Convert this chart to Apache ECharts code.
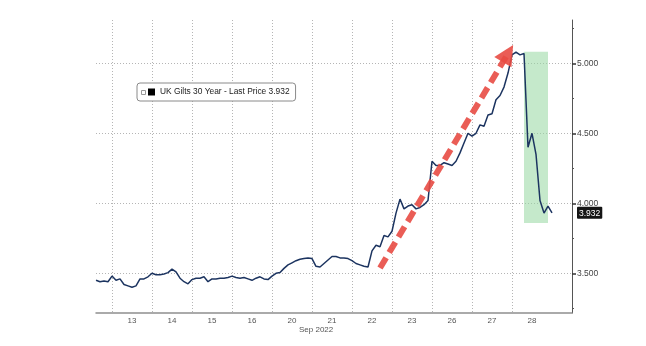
<!DOCTYPE html>
<html><head><meta charset="utf-8">
<script src="https://cdn.jsdelivr.net/npm/echarts@6/dist/echarts.min.js"></script>
<style>html,body{margin:0;padding:0;background:#fff}#c{width:646px;height:346px}</style>
</head><body><div id="c"></div>
<script>
// ---- data ----
const days = ['12','13','14','15','16','20','21','22','23','26','27','28'];
const firstSlot = [6,0,0,0,0,0,0,0,0,0,0,0];
const lastSlot  = [9,9,9,9,9,9,9,9,9,9,9,10];
const padSlots = ['e1','e2','e3','e4','e5'];
const yieldValues = [
  3.45,3.44,3.445,3.44,
  3.48,3.45,3.46,3.42,3.41,3.40,3.41,3.46,3.46,3.475,
  3.50,3.49,3.49,3.495,3.505,3.53,3.51,3.465,3.44,3.425,
  3.455,3.465,3.465,3.475,3.44,3.46,3.46,3.465,3.465,3.47,
  3.48,3.47,3.465,3.47,3.46,3.45,3.465,3.475,3.46,3.455,
  3.48,3.50,3.505,3.535,3.56,3.575,3.59,3.60,3.605,3.61,
  3.605,3.55,3.545,3.57,3.595,3.62,3.62,3.61,3.61,3.605,
  3.59,3.57,3.56,3.55,3.545,3.66,3.70,3.69,3.77,3.76,
  3.80,3.93,4.03,3.96,3.98,3.99,3.96,3.97,3.99,4.02,
  4.30,4.27,4.27,4.29,4.28,4.27,4.30,4.36,4.43,4.50,
  4.48,4.50,4.56,4.55,4.63,4.64,4.74,4.77,4.83,4.93,
  5.06,5.08,5.06,5.07,4.40,4.50,4.35,4.02,3.93,3.98,3.932
];
const seriesName = 'UK Gilts 30 Year';
const lastPrice = 3.932;
const yMajorTicks = [3.5, 4.0, 4.5, 5.0];
const yMinorTicks = [3.25, 3.75, 4.25, 4.75, 5.25];
const yRange = [3.2164, 5.309];
const axisMonth = 'Sep 2022';
const highlightX = ['28-3', '28-9'];
const highlightY = [5.083, 3.859];
const arrowStart = ['22-7', 3.538];
const arrowEnd = ['27-9', 5.07];

// ---- categories ----
const categories = [];
days.forEach((d, i) => { for (let k = firstSlot[i]; k <= lastSlot[i]; k++) categories.push(d + '-' + k); });
padSlots.forEach(p => categories.push(p));
const labelledDays = days.slice(1);
const isDayStart = v => { const p = v.split('-'); return p[1] === '0' && labelledDays.includes(p[0]); };
const isDayMid = v => { const p = v.split('-'); return p[1] === '5' && labelledDays.includes(p[0]); };

const FONT = 'Liberation Sans';
const chart = echarts.init(document.getElementById('c'), null, {renderer: 'canvas'});
chart.setOption({
  animation: false,
  backgroundColor: '#fff',
  grid: {left: 96, right: 74, top: 20, bottom: 33, containLabel: false},
  legend: {
    left: 137, top: 83, orient: 'horizontal',
    backgroundColor: '#fff', borderColor: '#8a8a8a', borderWidth: 1, borderRadius: 3,
    padding: [5, 6, 5, 11], itemWidth: 7, itemHeight: 7, itemGap: 4, icon: 'rect',
    textStyle: {fontSize: 8.4, color: '#222', fontFamily: FONT},
    formatter: n => n + ' - Last Price ' + lastPrice.toFixed(3),
    data: [{name: seriesName, itemStyle: {color: '#000'}}],
    selectedMode: false
  },
  xAxis: {
    type: 'category', data: categories, boundaryGap: false,
    axisLine: {show: true, lineStyle: {color: '#8f8f8f', width: 1.5}},
    axisTick: {show: false},
    axisLabel: {interval: (i, v) => isDayMid(v), formatter: v => v.split('-')[0],
      fontSize: 8, color: '#555', fontFamily: FONT, margin: 4},
    splitLine: {show: true, interval: (i, v) => isDayStart(v),
      lineStyle: {color: '#b5b5b5', type: [1, 2], width: 1}}
  },
  yAxis: [{
    type: 'value', position: 'right', min: yRange[0], max: yRange[1], scale: true,
    axisLine: {show: true, lineStyle: {color: '#555', width: 1}},
    axisTick: {show: true, customValues: yMajorTicks, length: 4, lineStyle: {color: '#333', width: 1.5}},
    axisLabel: {
      customValues: yMajorTicks.concat([lastPrice]), margin: 5,
      fontSize: 8.5, color: '#444', fontFamily: FONT,
      formatter: v => Math.abs(v - lastPrice) < 1e-9 ? '{tag|' + v.toFixed(3) + '}' : v.toFixed(3),
      rich: {tag: {backgroundColor: '#151515', color: '#fff', fontSize: 8.5, fontFamily: FONT,
        padding: [2, 2, 1, 2], borderRadius: 1}}
    },
    splitLine: {show: true, lineStyle: {color: '#b5b5b5', type: [1, 2], width: 1}}
  }, {
    type: 'value', position: 'right', min: yRange[0], max: yRange[1], scale: true,
    axisLine: {show: false}, axisLabel: {show: false}, splitLine: {show: false},
    axisTick: {show: true, customValues: yMinorTicks, length: 2, lineStyle: {color: '#555', width: 1}}
  }],
  graphic: [
    {type: 'text', left: 299, top: 326, style: {text: axisMonth, font: '8px "Liberation Sans"', fill: '#555'}},
    {type: 'rect', shape: {x: 141.5, y: 90.5, width: 4, height: 4}, style: {fill: '#fff', stroke: '#999', lineWidth: 1}, z: 100}
  ],
  series: [{
    name: seriesName, type: 'line', data: yieldValues, showSymbol: false, z: 3,
    lineStyle: {color: '#1c3460', width: 1.5}, itemStyle: {color: '#1c3460'},
    markArea: {silent: true, itemStyle: {color: 'rgba(150, 215, 160, 0.55)'},
      data: [[{xAxis: highlightX[0], yAxis: highlightY[0]}, {xAxis: highlightX[1], yAxis: highlightY[1]}]]}
  }, {
    name: 'trend', type: 'line', data: [], z: 5,
    markLine: {silent: true, symbol: ['none', 'triangle'], symbolSize: 20,
      lineStyle: {color: 'rgba(232, 75, 68, 0.9)', width: 6, type: [12, 6], cap: 'butt'},
      itemStyle: {color: 'rgba(232, 75, 68, 0.9)'},
      label: {show: false},
      data: [[{coord: arrowStart}, {coord: arrowEnd}]]}
  }]
});
</script></body></html>
